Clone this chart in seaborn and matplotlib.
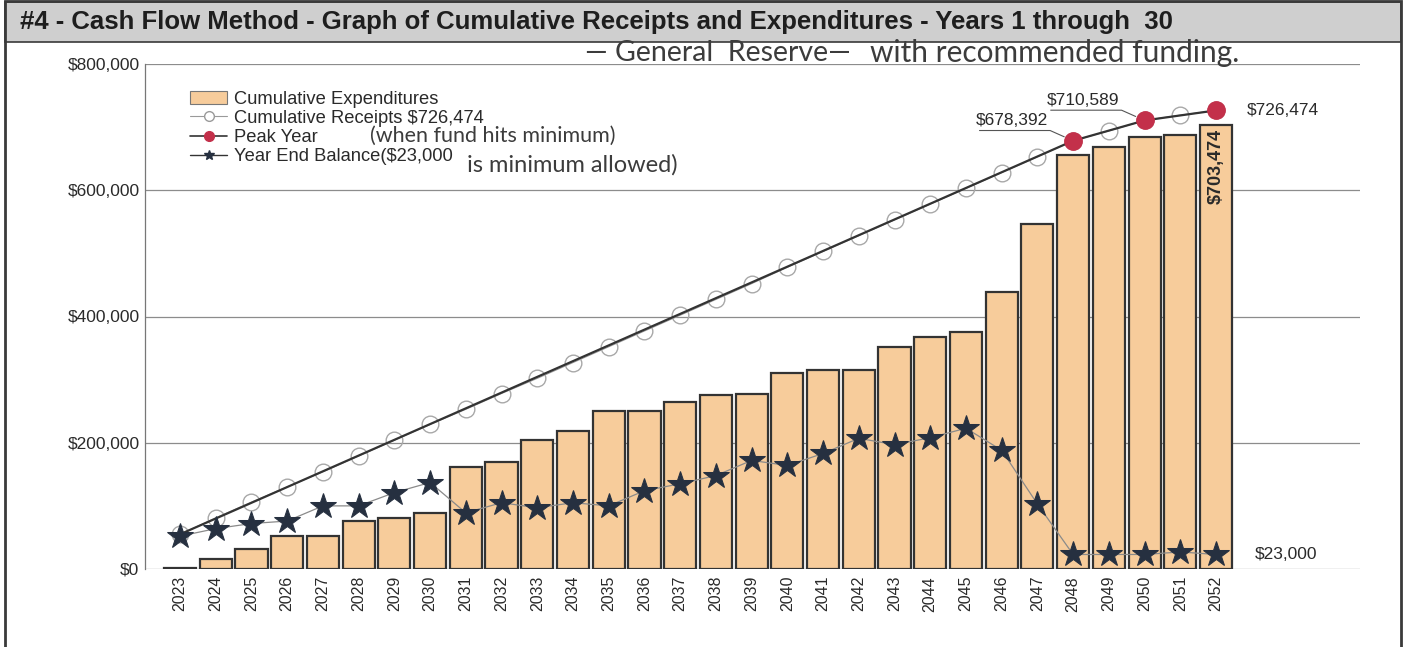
import numpy as np
import pandas as pd
import matplotlib
matplotlib.use("Agg")
import matplotlib.pyplot as plt
from matplotlib.lines import Line2D
from matplotlib.patches import Patch, Rectangle
import seaborn as sns

years = [str(y) for y in range(2023, 2053)]

expenditures = [2000, 16000, 32000, 52000, 52000, 76000, 81000, 89000,
                162000, 170000, 204000, 218000, 250000, 251000, 264000,
                276000, 277000, 310000, 316000, 316000, 351000, 367000,
                376000, 439000, 547000, 655392, 668000, 685000, 688000,
                703474]

receipts = [55000, 81000, 106000, 130000, 154000, 179000, 204000, 229000,
            253000, 278000, 302000, 327000, 352000, 377000, 402000, 427000,
            452000, 478000, 503000, 528000, 553000, 578000, 603000, 628000,
            653000, 678392, 694000, 710589, 719000, 726474]

balance = [52000, 64000, 72000, 76000, 100000, 100000, 121000, 137000,
           89000, 105000, 97000, 105000, 100000, 124000, 135000, 148000,
           172000, 164000, 183000, 207000, 197000, 208000, 223000, 188000,
           103000, 23000, 23000, 23000, 27000, 23000]

peak_years = ["2023", "2048", "2050", "2052"]
peak_values = [55000, 678392, 710589, 726474]

yticks = [0, 200000, 400000, 600000, 800000]
ytick_labels = ["$0", "$200,000", "$400,000", "$600,000", "$800,000"]

title = "#4 - Cash Flow Method - Graph of Cumulative Receipts and Expenditures - Years 1 through  30"

BAR = "#f7cc9b"
STAR = "#263040"
RED = "#c3304a"
TXT = "#2a2a2a"
HAND = "#3c3c3c"


def main():
    sns.set_theme(style="white")
    plt.rcParams["font.family"] = ["Liberation Sans", "DejaVu Sans"]

    fig = plt.figure(figsize=(14.09, 6.47), dpi=100)
    ax = fig.add_axes([145 / 1409, 1 - 569 / 647, 1215 / 1409, 505 / 647])

    df = pd.DataFrame({"year": years, "exp": expenditures,
                       "rec": receipts, "bal": balance})
    pos = np.arange(len(years))
    df["pos"] = pos

    sns.barplot(data=df, x="year", y="exp", color=BAR, width=0.9,
                edgecolor="#333333", linewidth=1.6, saturation=1, ax=ax,
                zorder=2)

    # receipts - open grey circles
    sns.lineplot(data=df, x="pos", y="rec", ax=ax, color="#9a9a9a", lw=0.8,
                 marker="o", markersize=12, markerfacecolor="none",
                 markeredgecolor="#a8a8a8", markeredgewidth=1.0, zorder=3)

    # peak year line
    pk = [years.index(p) for p in peak_years]
    ax.plot(pk, peak_values, color="#333333", lw=1.6, zorder=4)
    ax.plot(pk[1:], peak_values[1:], ls="none", marker="o", markersize=12.5,
            color=RED, zorder=5)

    # year end balance - stars
    sns.lineplot(data=df, x="pos", y="bal", ax=ax, color="#8a8a8a", lw=0.9,
                 marker="*", markersize=19, markerfacecolor=STAR,
                 markeredgecolor=STAR, zorder=6)

    ax.set_xlim(-0.98, 33.03)
    ax.set_ylim(0, 800000)
    ax.set_yticks(yticks)
    ax.set_yticklabels(ytick_labels, fontsize=12.5, color=TXT)
    ax.set_xticks(pos)
    ax.set_xticklabels(years, rotation=90, fontsize=11.5, color=TXT)
    ax.set_xlabel("")
    ax.set_ylabel("")
    ax.tick_params(axis="y", length=3, color="#777777", pad=1)
    ax.tick_params(axis="x", length=0, pad=5)
    ax.grid(axis="y", color="#8c8c8c", lw=0.9)
    ax.set_axisbelow(True)
    for s in ["top", "right", "bottom"]:
        ax.spines[s].set_visible(False)
    ax.spines["left"].set_color("#777777")
    ax.spines["left"].set_linewidth(0.9)

    # value labels
    lk = dict(fontsize=12.5, color=TXT)
    arr = dict(arrowstyle="-", color="#555555", lw=0.8, shrinkA=0, shrinkB=7,
               patchA=None, relpos=(0.05, -0.15),
               connectionstyle="angle,angleA=0,angleB=156,rad=0")
    ax.annotate("$678,392", xy=(25, 678392), xytext=(-18, 9),
                textcoords="offset points", ha="right", va="bottom",
                arrowprops=arr, **lk)
    ax.annotate("$710,589", xy=(27, 710589), xytext=(-18, 9),
                textcoords="offset points", ha="right", va="bottom",
                arrowprops=arr, **lk)
    ax.annotate("$726,474", xy=(29, 726474), xytext=(22, 0),
                textcoords="offset points", ha="left", va="center", **lk)
    ax.annotate("$23,000", xy=(29, 23000), xytext=(28, 0),
                textcoords="offset points", ha="left", va="center", **lk)
    ax.annotate("$703,474", xy=(29, 703474), xytext=(0, -3),
                textcoords="offset points", ha="center", va="top",
                rotation=90, fontsize=13, fontweight="bold", color=TXT)

    handles = [
        Patch(facecolor=BAR, edgecolor="#777777", lw=0.8),
        Line2D([], [], color="#9a9a9a", lw=0.8, marker="o", markersize=7,
               markerfacecolor="white", markeredgecolor="#9a9a9a"),
        Line2D([], [], color="#333333", lw=1.2, marker="o", markersize=7,
               markerfacecolor=RED, markeredgecolor=RED),
        Line2D([], [], color="#333333", lw=1.0, marker="*", markersize=7,
               markerfacecolor=STAR, markeredgecolor=STAR),
    ]
    labels = ["Cumulative Expenditures", "Cumulative Receipts $726,474",
              "Peak Year", "Year End Balance($23,000"]
    ax.legend(handles, labels, loc="upper left", bbox_to_anchor=(0.0314, 0.962),
              frameon=False, fontsize=13.2, handlelength=2.0, handletextpad=0.4,
              labelspacing=0.12, borderaxespad=0, labelcolor=TXT)

    # handwritten notes
    hw = dict(color=HAND, family=["Lato", "DejaVu Sans"])
    fig.text(585 / 1409, 1 - 53 / 647, "\u2014 General  Reserve\u2014",
             ha="left", va="center", fontsize=20.5, **hw)
    fig.text(870 / 1409, 1 - 53 / 647, "with recommended funding.",
             ha="left", va="center", fontsize=21.5, **hw)
    fig.text(370 / 1409, 1 - 136 / 647, "(when fund hits minimum)",
             ha="left", va="center", fontsize=15.5, **hw)
    fig.text(467 / 1409, 1 - 165 / 647, "is minimum allowed)",
             ha="left", va="center", fontsize=17, **hw)

    # header band and page frame
    fig.patches.append(Rectangle((5 / 1409, 1 - 42 / 647), 1396 / 1409, 40 / 647,
                                 transform=fig.transFigure, facecolor="#cfcfcf",
                                 edgecolor="#3a3a3a", lw=1.2, zorder=0))
    fig.patches.append(Rectangle((5 / 1409, -0.01), 1396 / 1409, 1.008,
                                 transform=fig.transFigure, facecolor="none",
                                 edgecolor="#3a3a3a", lw=2.0, zorder=0))
    fig.text(20 / 1409, 1 - 22 / 647, title, ha="left", va="center",
             fontsize=18.5, fontweight="bold", color="#1e1e1e")

    fig.savefig("out.png", dpi=100)


if __name__ == "__main__":
    main()
